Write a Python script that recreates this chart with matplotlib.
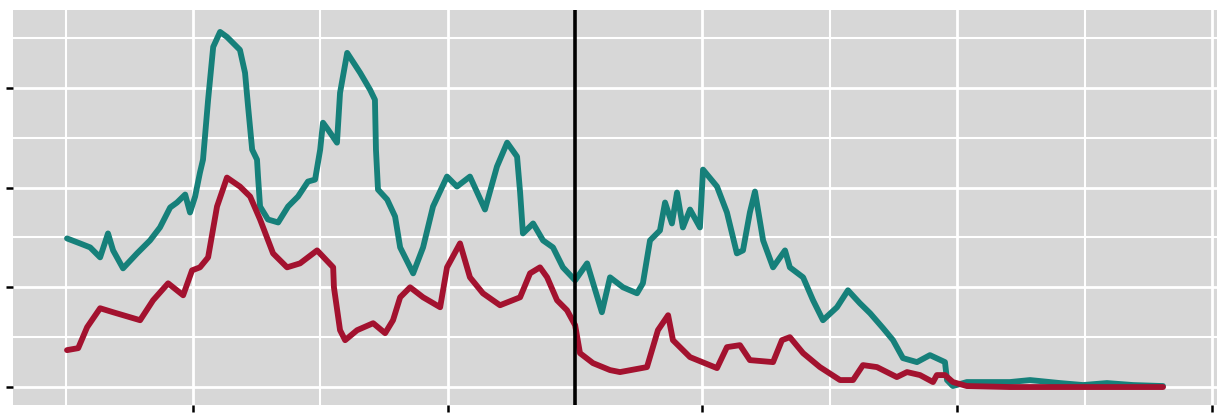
import matplotlib
matplotlib.use('Agg')
import matplotlib.pyplot as plt
import numpy as np

# upper series (teal)
teal_x = [-0.495, -0.444, -0.404, -0.365, -0.334, -0.314, -0.275, -0.220, -0.169, -0.130,
          -0.090, -0.063, -0.031, -0.012, 0.008, 0.027, 0.039, 0.059, 0.079, 0.106,
          0.133, 0.184, 0.204, 0.216, 0.232, 0.251, 0.255, 0.263, 0.294, 0.334,
          0.373, 0.412, 0.451, 0.479, 0.499, 0.510, 0.530, 0.565, 0.577, 0.605,
          0.656, 0.695, 0.714, 0.718, 0.726, 0.762, 0.793, 0.813, 0.864, 0.903,
          0.942, 0.997, 1.036, 1.087, 1.146, 1.193, 1.233, 1.272, 1.284, 1.295,
          1.335, 1.374, 1.413, 1.452, 1.500, 1.547, 1.605, 1.637, 1.688, 1.743,
          1.766, 1.794, 1.833, 1.853, 1.880, 1.900, 1.923, 1.951, 1.990, 2.002,
          2.057, 2.096, 2.135, 2.159, 2.186, 2.206, 2.238, 2.277, 2.324, 2.343,
          2.395, 2.434, 2.473, 2.528, 2.571, 2.618, 2.658, 2.709, 2.748, 2.787,
          2.842, 2.893, 2.952, 2.960, 2.983, 3.038, 3.207, 3.286, 3.403, 3.494,
          3.588, 3.690, 3.808]
teal_y = [1.49, 1.44, 1.40, 1.30, 1.54, 1.37, 1.19, 1.34, 1.47, 1.60,
          1.80, 1.85, 1.93, 1.75, 1.91, 2.15, 2.28, 2.88, 3.41, 3.56,
          3.51, 3.38, 3.15, 2.81, 2.38, 2.28, 2.11, 1.81, 1.68, 1.65,
          1.81, 1.91, 2.06, 2.08, 2.38, 2.65, 2.58, 2.45, 2.95, 3.35,
          3.15, 2.98, 2.88, 2.38, 1.98, 1.88, 1.71, 1.40, 1.14, 1.40,
          1.81, 2.11, 2.01, 2.11, 1.78, 2.21, 2.45, 2.31, 1.95, 1.54,
          1.64, 1.47, 1.40, 1.20, 1.07, 1.24, 0.75, 1.10, 1.00, 0.94,
          1.04, 1.47, 1.57, 1.85, 1.64, 1.95, 1.60, 1.78, 1.60, 2.18,
          2.01, 1.75, 1.34, 1.37, 1.75, 1.96, 1.47, 1.20, 1.37, 1.20,
          1.10, 0.87, 0.67, 0.80, 0.97, 0.84, 0.74, 0.59, 0.47, 0.29,
          0.25, 0.32, 0.25, 0.07, 0.01, 0.05, 0.05, 0.07, 0.04, 0.02,
          0.04, 0.02, 0.01]

# lower series (dark red)
red_x = [-0.495, -0.451, -0.416, -0.365, -0.314, -0.208, -0.157, -0.098, -0.039, -0.004,
         0.027, 0.059, 0.094, 0.133, 0.184, 0.224, 0.263, 0.314, 0.369, 0.420,
         0.487, 0.550, 0.553, 0.577, 0.597, 0.644, 0.707, 0.754, 0.785, 0.813,
         0.852, 0.903, 0.970, 0.997, 1.048, 1.087, 1.138, 1.205, 1.284, 1.323,
         1.362, 1.390, 1.429, 1.468, 1.500, 1.519, 1.570, 1.637, 1.676, 1.782,
         1.825, 1.865, 1.884, 1.951, 2.057, 2.096, 2.147, 2.186, 2.277, 2.312,
         2.343, 2.395, 2.461, 2.540, 2.591, 2.630, 2.685, 2.763, 2.803, 2.854,
         2.905, 2.920, 2.952, 2.983, 3.038, 3.207, 3.808]
red_y = [0.37, 0.39, 0.60, 0.79, 0.75, 0.67, 0.87, 1.04, 0.92, 1.17,
         1.20, 1.30, 1.81, 2.10, 2.01, 1.91, 1.68, 1.34, 1.20, 1.24,
         1.37, 1.20, 1.00, 0.57, 0.47, 0.57, 0.64, 0.54, 0.67, 0.90,
         1.00, 0.90, 0.80, 1.20, 1.44, 1.10, 0.94, 0.82, 0.90, 1.14,
         1.20, 1.10, 0.87, 0.77, 0.62, 0.34, 0.24, 0.17, 0.15, 0.20,
         0.57, 0.72, 0.47, 0.30, 0.19, 0.40, 0.42, 0.27, 0.25, 0.47,
         0.50, 0.34, 0.20, 0.07, 0.07, 0.22, 0.20, 0.10, 0.15, 0.12,
         0.05, 0.12, 0.12, 0.05, 0.01, 0.00, 0.00]

event_x = 1.5

fig = plt.figure(figsize=(12.26, 4.2), dpi=100)
ax = fig.add_axes([13 / 1226, 15 / 420, 1204 / 1226, 395 / 420])
ax.set_facecolor('#d7d7d7')

ax.set_xticks([0, 1, 2, 3, 4])
ax.set_xticks([-0.5, 0.5, 1.5, 2.5, 3.5], minor=True)
ax.set_yticks([0, 1, 2, 3])
ax.set_yticks([0.5, 1.5, 2.5, 3.5], minor=True)
ax.grid(which='major', color='white', lw=2.0)
ax.grid(which='minor', color='white', lw=1.5)
ax.set_axisbelow(True)
ax.tick_params(which='major', length=5, width=1.8, color='black',
               labelbottom=False, labelleft=False)
ax.tick_params(which='minor', length=0)
for s in ax.spines.values():
    s.set_visible(False)

ax.plot(teal_x, teal_y, color='#16807a', lw=4.2, solid_capstyle='round',
        solid_joinstyle='round', zorder=3)
ax.plot(red_x, red_y, color='#a3122f', lw=4.2, solid_capstyle='round',
        solid_joinstyle='round', zorder=4)
ax.axvline(event_x, color='black', lw=2.6, zorder=5)

ax.set_xlim(-0.707, 4.020)
ax.set_ylim(-0.18, 3.78)

fig.savefig('out.png', dpi=100)
